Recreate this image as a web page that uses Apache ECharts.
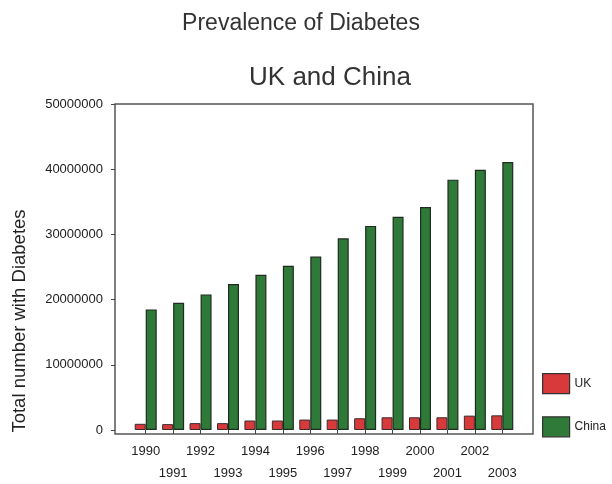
<!DOCTYPE html>
<html>
<head>
<meta charset="utf-8">
<script src="https://cdn.jsdelivr.net/npm/echarts@6/dist/echarts.min.js"></script>
<style>
  html, body { margin: 0; padding: 0; background: #fff; }
  #chart { width: 612px; height: 484px; }
</style>
</head>
<body>
<div id="chart"></div>
<script>
let years = ['1990', '1991', '1992', '1993', '1994', '1995', '1996', '1997',
  '1998', '1999', '2000', '2001', '2002', '2003']
let ukValues = [950000, 900000, 1050000, 1050000, 1450000, 1450000, 1600000, 1600000,
  1800000, 1950000, 1950000, 1950000, 2200000, 2250000]
let chinaValues = [18500000, 19500000, 20800000, 22400000, 23800000, 25200000, 26600000, 29400000,
  31300000, 32700000, 34200000, 38400000, 39900000, 41100000]
let yTicks = [0, 10000000, 20000000, 30000000, 40000000, 50000000]

let chart = echarts.init(document.getElementById('chart'));
let font = 'Liberation Sans, Arial, sans-serif'
let option = {
    animation: false,
    title: [
        {
            text: 'Prevalence of Diabetes',
            left: 296, top: 7, textAlign: 'center',
            textStyle: {fontFamily: font, fontSize: 23, fontWeight: 'normal', color: '#333'}
        },
        {
            text: 'UK and China',
            left: 325, top: 60, textAlign: 'center',
            textStyle: {fontFamily: font, fontSize: 26, fontWeight: 'normal', color: '#333'}
        }
    ],
    legend: {
        orient: 'vertical',
        left: 542, top: 373,
        padding: 0,
        icon: 'rect',
        itemWidth: 27, itemHeight: 20, itemGap: 22,
        itemStyle: {borderColor: '#333', borderWidth: 1.2},
        textStyle: {fontFamily: font, fontSize: 12, color: '#222'},
        data: ['UK', 'China']
    },
    grid: [
        // data grid, inset so bars sit off the frame
        {left: 132, right: 96, top: 104, bottom: 50},
        // plot frame
        {left: 115, right: 79, top: 104, bottom: 50, show: true, borderColor: '#555', borderWidth: 1.5}
    ],
    xAxis: [
        {
            type: 'category',
            data: years,
            gridIndex: 0,
            axisLine: {show: false},
            axisTick: {show: true, alignWithLabel: true, length: 4, lineStyle: {color: '#444'}},
            axisLabel: {
                interval: 0,
                margin: 10,
                fontFamily: font, fontSize: 13, color: '#222',
                lineHeight: 22,
                formatter: function (v, i) {
                    return (i % 2 === 1) ? '\n' + v : v
                }
            }
        },
        {type: 'value', gridIndex: 1, show: false}
    ],
    yAxis: [
        {
            type: 'value',
            gridIndex: 0,
            offset: 17,
            min: yTicks[0], max: yTicks[yTicks.length - 1], interval: 10000000,
            name: 'Total number with Diabetes',
            nameLocation: 'middle',
            nameGap: 86,
            nameRotate: 90,
            nameTextStyle: {fontFamily: font, fontSize: 18.5, color: '#222', padding: [0, 108, 0, 0]},
            splitLine: {show: false},
            axisLine: {show: false},
            axisTick: {show: true, length: 4, lineStyle: {color: '#444'}},
            axisLabel: {
                fontFamily: font, fontSize: 13, color: '#222', margin: 12,
                formatter: function (v) { return String(v) }
            }
        },
        {type: 'value', gridIndex: 1, show: false}
    ],
    series: [
        {
            name: 'UK',
            type: 'bar',
            data: ukValues,
            barWidth: 11,
            barGap: '0%',
            itemStyle: {color: '#d8393b', borderColor: '#3a2a2a', borderWidth: 1}
        },
        {
            name: 'China',
            type: 'bar',
            data: chinaValues,
            barWidth: 11,
            itemStyle: {color: '#2f7a38', borderColor: '#1f2b20', borderWidth: 1.2}
        }
    ]
};
chart.setOption(option);
</script>
</body>
</html>
